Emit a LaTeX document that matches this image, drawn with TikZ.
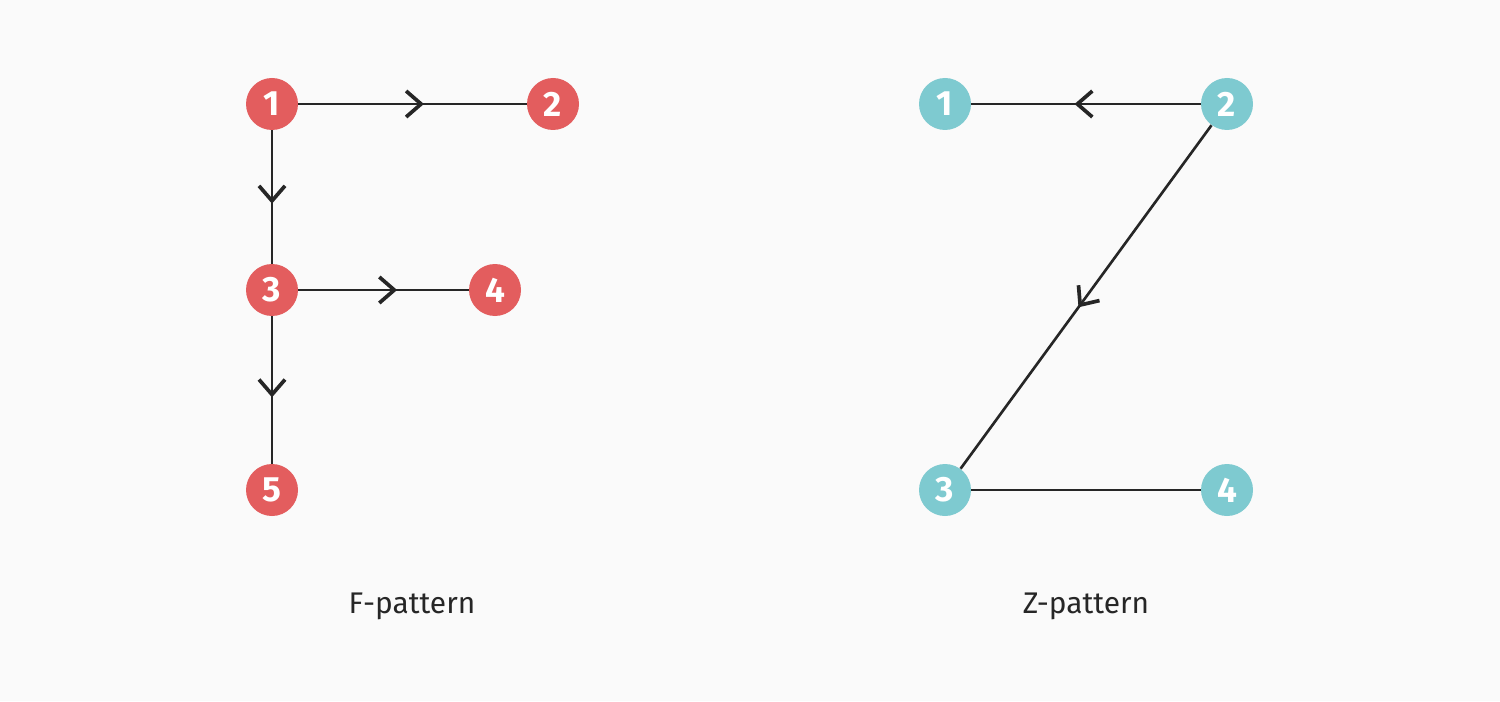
\documentclass[tikz,border=0pt]{standalone}
\usepackage{fontspec}
\setmainfont{Fira Sans}
\usetikzlibrary{arrows.meta,decorations.markings}
\definecolor{fred}{HTML}{E35D5E}
\definecolor{zteal}{HTML}{7ECAD0}
\definecolor{ink}{HTML}{262626}
\definecolor{paper}{HTML}{FAFAFA}
\tikzset{
  dot/.style={circle, minimum size=1.04cm, inner sep=0pt, text=white,
    font=\fontsize{20}{22}\selectfont\bfseries},
  fdot/.style={dot, fill=fred},
  zdot/.style={dot, fill=zteal},
  link/.style={draw=ink, line width=1.5pt},
  midarrow/.style={link, postaction={decorate}, decoration={markings,
    mark=at position #1 with {\arrow[ink, line width=2.1pt]{Straight Barb[length=0.3cm, width=0.52cm]}}}},
  caption/.style={text=ink, font=\fontsize{17}{20}\selectfont}
}
\begin{document}
\begin{tikzpicture}
			%%%%% START %%%%%
			
			\fill[paper] (0, 0) rectangle (30, 14.02);
			
			% F-pattern
			\node[fdot] (f1) at (5.44, 11.94) {1};
			\node[fdot] (f2) at (11.06, 11.94) {2};
			\node[fdot] (f3) at (5.44, 8.22) {3};
			\node[fdot] (f4) at (9.9, 8.22) {4};
			\node[fdot] (f5) at (5.44, 4.22) {5};
			
			\draw[midarrow=0.55] (f1) -- (f2);
			\draw[midarrow=0.55] (f1) -- (f3);
			\draw[midarrow=0.58] (f3) -- (f4);
			\draw[midarrow=0.55] (f3) -- (f5);
			
			\node[caption] (fcap) at (8.24, 1.9) {F-pattern};
			
			% Z-pattern
			\node[zdot] (z1) at (18.9, 11.94) {1};
			\node[zdot] (z2) at (24.54, 11.94) {2};
			\node[zdot] (z3) at (18.9, 4.22) {3};
			\node[zdot] (z4) at (24.54, 4.22) {4};
			
			\draw[midarrow=0.55] (z2) -- (z1);
			\draw[midarrow=0.53] (z2) -- (z3);
			\draw[link] (z3) -- (z4);
			
			\node[caption] (zcap) at (21.72, 1.9) {Z-pattern};
			
			%%%%% END %%%%%
\end{tikzpicture}
\end{document}
